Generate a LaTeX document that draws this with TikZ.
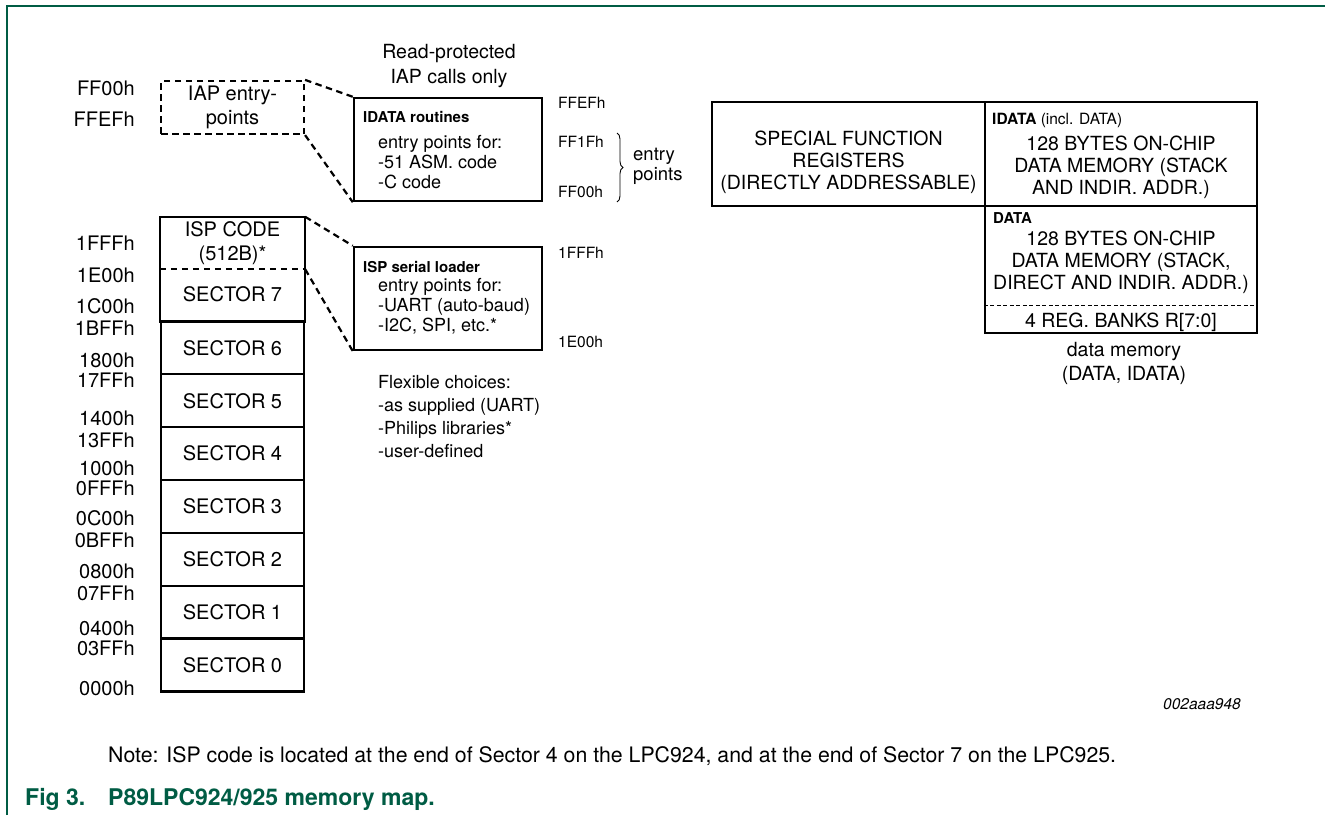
\documentclass[tikz,border=0pt]{standalone}
\usepackage{fontspec}
\setmainfont{TeX Gyre Heros}
\usetikzlibrary{positioning, decorations.pathreplacing}
\definecolor{nxpgreen}{RGB}{0,92,68}

\tikzset{
  sector/.style={draw, line width=2.4pt, minimum width=143pt, minimum height=52.86pt, inner sep=0pt, font=\fontsize{20}{22}\selectfont},
  memblk/.style={draw, line width=2.4pt, inner sep=0pt},
  dashln/.style={line width=2.2pt, dash pattern=on 6.5pt off 4.5pt},
  addr/.style={anchor=base east, inner sep=0pt, font=\fontsize{20}{22}\selectfont},
  lbl/.style={anchor=base west, inner sep=0pt, font=\fontsize{18}{20}\selectfont},
  smalllbl/.style={anchor=base west, inner sep=0pt, font=\fontsize{15.5}{18}\selectfont},
  ttl/.style={anchor=base west, inner sep=0pt, font=\fontsize{15}{18}\selectfont\bfseries},
  ctext/.style={align=center, inner sep=0pt, font=\fontsize{19.5}{22}\selectfont},
}

\begin{document}
\begin{tikzpicture}[x=1pt, y=-1pt]
\useasboundingbox (0,0) rectangle (1325,815);

% Cadre
\draw[nxpgreen, line width=1.5pt] (7,815) -- (7,6) -- (1325,6);

% Adresses (colonne de gauche)
\foreach \adr/\yy in {FF00h/95, FFEFh/126, 1FFFh/250, 1E00h/282, 1C00h/313, 1BFFh/335,
    1800h/367, 17FFh/387, 1400h/425, 13FFh/447, 1000h/475, 0FFFh/495, 0C00h/525,
    0BFFh/547, 0800h/578, 07FFh/600, 0400h/635, 03FFh/655, 0000h/695}
  \node[addr] (adr\adr) at (135,\yy) {\adr};

% Points d'entree IAP
\node[draw, dashln, minimum width=143pt, minimum height=53pt, align=center, inner sep=0pt,
  font=\fontsize{20}{24}\selectfont] (iap) at (232.5,107.5) {IAP entry-\\points};

% Code ISP + secteur 7
\node[sector, draw=none, align=center, minimum height=50pt, font=\fontsize{20}{24}\selectfont] (isp) at (232.5,243) {ISP CODE\\(512B)*};
\node[sector, draw=none] (sec7) at (232.5,294.5) {SECTOR 7};
\draw[line width=2.4pt] (isp.north west) rectangle (sec7.south east);
\draw[dashln] (isp.south west) -- (isp.south east);

% Secteurs 0..6
\foreach \i in {0,...,6} {
  \pgfmathsetmacro{\ypos}{665 - \i*52.86}
  \node[sector] (sec\i) at (232.5,\ypos) {SECTOR \i};
}

% Routines IDATA
\node[anchor=base, inner sep=0pt, font=\fontsize{19.5}{22}\selectfont] (rprot1) at (449,58) {Read-protected};
\node[anchor=base, inner sep=0pt, font=\fontsize{19.5}{22}\selectfont] (rprot2) at (449,83) {IAP calls only};
\node[memblk, minimum width=188pt, minimum height=103pt] (idata) at (448,149.5) {};
\node[ttl] (idatattl) at (363,122) {IDATA routines};
\foreach \txt [count=\k] in {entry points for:, -51 ASM. code, -C code}
  \node[lbl] (idata\k) at (378,{128+20*\k}) {\txt};

% Chargeur serie ISP
\node[memblk, minimum width=188pt, minimum height=103pt] (loader) at (448,298.5) {};
\node[ttl] (loaderttl) at (363,272) {ISP serial loader};
\foreach \txt [count=\k] in {entry points for:, -UART (auto-baud), {-I2C, SPI, etc.*}}
  \node[lbl] (loader\k) at (378,{271+20*\k}) {\txt};

% Liaisons en pointilles
\draw[dashln] (iap.north east) -- (idata.north west);
\draw[dashln] (iap.south east) -- (idata.south west);
\draw[dashln] (isp.north east) -- (loader.north west);
\draw[dashln] (isp.south east) -- (loader.south west);

% Adresses de droite
\node[smalllbl] (rFFEFh) at (558,108) {FFEFh};
\node[smalllbl] (rFF1Fh) at (558,147) {FF1Fh};
\node[smalllbl] (rFF00h) at (558,197) {FF00h};
\node[smalllbl] (r1FFFh) at (558,258) {1FFFh};
\node[smalllbl] (r1E00h) at (558,347) {1E00h};

% Accolade
\coordinate (brtop) at (617,133);
\coordinate (brbot) at (617,202);
\draw[decorate, decoration={brace, amplitude=6pt}, line width=0.9pt] (brtop) -- (brbot);
\node[lbl, font=\fontsize{18.5}{20}\selectfont] (entry1) at (633,160) {entry};
\node[lbl, font=\fontsize{18.5}{20}\selectfont] (entry2) at (633,180) {points};

% Choix
\foreach \txt [count=\k] in {Flexible choices:, -as supplied (UART), -Philips libraries*, -user-defined}
  \node[lbl] (flex\k) at (378,{365+23*\k}) {\txt};

% Memoire de donnees
\node[memblk, minimum width=273pt, minimum height=104pt] (sfr) at (848.5,154) {};
\node[ctext] (sfrtxt) at (848.5,162.2) {SPECIAL FUNCTION\\REGISTERS\\(DIRECTLY ADDRESSABLE)};
\node[memblk, minimum width=272pt, minimum height=104pt] (imem) at (1121,154) {};
\node[smalllbl, font=\fontsize{15.5}{18}\selectfont] (imemttl) at (992,124) {\textbf{IDATA} (incl. DATA)};
\node[ctext] (imemtxt) at (1121,167.2) {128 BYTES ON-CHIP\\DATA MEMORY (STACK\\AND INDIR. ADDR.)};
\node[memblk, minimum width=272pt, minimum height=127pt] (dmem) at (1121,269.5) {};
\node[ttl] (dmemttl) at (993,223) {DATA};
\node[ctext] (dmemtxt) at (1121,262.2) {128 BYTES ON-CHIP\\DATA MEMORY (STACK,\\DIRECT AND INDIR. ADDR.)};
\path (dmem.south west) ++(0,-29) coordinate (dsepl);
\path (dmem.south east) ++(0,-29) coordinate (dsepr);
\draw[line width=0.9pt, dash pattern=on 4pt off 2.5pt] (dsepl) -- (dsepr);
\node[ctext, anchor=base] (banks) at (1121,327) {4 REG. BANKS R[7:0]};
\node[ctext, anchor=base] (dcap1) at (1124,356) {data memory};
\node[ctext, anchor=base] (dcap2) at (1124,380) {(DATA, IDATA)};

% Reference
\node[anchor=base west, inner sep=0pt, font=\fontsize{15.5}{18}\selectfont\itshape] (figid) at (1163,709) {002aaa948};

% Note et legende
\node[anchor=base west, inner sep=0pt, font=\fontsize{21.3}{24}\selectfont] (note) at (108,762)
  {Note: ISP code is located at the end of Sector 4 on the LPC924, and at the end of Sector 7 on the LPC925.};
\node[anchor=base west, inner sep=0pt, font=\fontsize{23}{26}\selectfont\bfseries, text=nxpgreen] (figno) at (25,805) {Fig 3.};
\node[anchor=base west, inner sep=0pt, font=\fontsize{23}{26}\selectfont\bfseries, text=nxpgreen] (figttl) at (108,805) {P89LPC924/925 memory map.};

\end{tikzpicture}
\end{document}
